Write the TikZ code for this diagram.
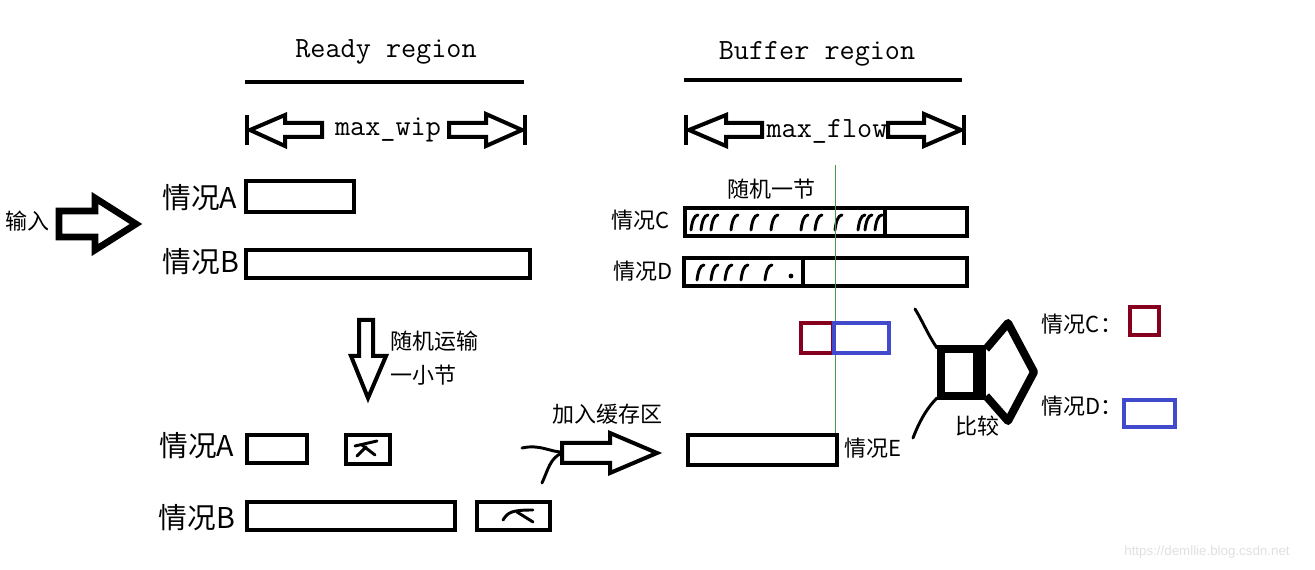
\documentclass[tikz,border=0pt]{standalone}
\usepackage{fontspec}
\setsansfont{Liberation Sans}
\newfontfamily\cjk{Noto Sans CJK SC}
\usetikzlibrary{calc}
\definecolor{boxred}{RGB}{133,0,31}
\definecolor{boxblue}{RGB}{65,73,204}
\definecolor{guidegreen}{RGB}{70,150,80}

\begin{document}
\begin{tikzpicture}[x=0.75pt,y=-0.75pt,
    bar/.style={line width=3pt},
    blk/.style={line width=3pt,line join=miter},
    scrib/.style={line width=2.2pt,line cap=round},
    big/.style={font=\cjk\fontsize{21.5}{25}\selectfont},
    sml/.style={font=\cjk\fontsize{16.5}{20}\selectfont},
    ttl/.style={font=\ttfamily\fontsize{22}{26}\selectfont},
    redbox/.style={draw=boxred,line width=3.2pt},
    bluebox/.style={draw=boxblue,line width=3.2pt}]
            \useasboundingbox (0,0) rectangle (1315,570);

            % titles
            \node[ttl] (ready) at (386,52) {Ready region};
            \node[ttl] (buffer) at (817,54) {Buffer region};
            \draw[bar] (245,82) -- (524,82);
            \draw[bar] (684,80) -- (962,80);

            % max_wip
            \node[ttl] (wip) at (388,130) {max\_wip};
            \draw[bar] (247,115) -- (247,145);
            \draw[blk] (250,130) -- (285,115) -- (285,123) -- (322,123) -- (322,137) -- (285,137) -- (285,146) -- cycle;
            \draw[blk] (522,130) -- (486,114) -- (486,123) -- (449,123) -- (449,137) -- (486,137) -- (486,146) -- cycle;
            \draw[bar] (525,115) -- (525,145);

            % max_flow
            \node[ttl] (flow) at (827,131) {max\_flow};
            \draw[bar] (686,115) -- (686,145);
            \draw[blk] (689,130) -- (726,115) -- (726,123) -- (762,123) -- (762,137) -- (726,137) -- (726,146) -- cycle;
            \draw[blk] (961,130) -- (924,114) -- (924,123) -- (888,123) -- (888,137) -- (924,137) -- (924,146) -- cycle;
            \draw[bar] (964,115) -- (964,145);

            % input
            \node[sml] (input) at (28,221) {输入};
            \draw[line width=5pt,line join=miter] (59,211) -- (95,211) -- (95,198) -- (136,224) -- (95,250) -- (95,237) -- (59,237) -- cycle;

            \node[big] (ra) at (200,198) {情况A};
            \draw[bar] (246,181) rectangle (354,212);
            \node[big] (rb) at (201,262) {情况B};
            \draw[bar] (246,250) rectangle (530,278);

            % buffer cases
            \node[sml] (onesec) at (771,189) {随机一节};
            \node[sml] (bc) at (641,220) {情况C};
            \draw[bar] (685,208) rectangle (967,236);
            \draw[bar] (885,208) -- (885,236);
            \foreach \x in {693,703,713,733,753,773,803,817,837,860,867,877}
                \draw[scrib] ({\x-2},230) .. controls ({\x-1},222) and ({\x+1},215) .. ({\x+5},215);
            \node[sml] (bd) at (643,271) {情况D};
            \draw[bar] (684,258) rectangle (967,286);
            \draw[bar] (803,258) -- (803,286);
            \foreach \x in {699,713,727,743,767}
                \draw[scrib] ({\x-2},280) .. controls ({\x-1},272) and ({\x+1},265) .. ({\x+5},265);
            \fill (791,276) circle (2.4);

            \draw[guidegreen,line width=0.5pt] (835,165) -- (835,465);

            % move down
            \draw[blk] (359,320) -- (373,320) -- (373,356) -- (386,356) -- (368,398) -- (351,356) -- (359,356) -- cycle;
            \node[sml,anchor=west] (move) at (386,341) {随机运输};
            \node[sml,anchor=west] (small) at (386,375) {一小节};

            \draw[redbox] (801,323) rectangle (833,353);
            \draw[bluebox] (834,323) rectangle (889,353);

            % after moving
            \node[big] (la) at (197,446) {情况A};
            \draw[bar] (247,435) rectangle (307,463);
            \draw[bar] (346,435) rectangle (390,464);
            \draw[scrib] (355,446) -- (377,441);
            \draw[scrib] (362,445) -- (375,455);
            \draw[scrib] (357,456) -- (366,447);
            \node[big] (lb) at (197,518) {情况B};
            \draw[bar] (247,502) rectangle (455,530);
            \draw[bar] (477,502) rectangle (550,530);
            \draw[scrib] (503,520) .. controls (508,512) and (512,510) .. (533,510);
            \draw[scrib] (517,512) -- (533,522);

            % join buffer
            \node[sml] (join) at (607,414) {加入缓存区};
            \draw[blk] (562,443) -- (610,443) -- (610,433) -- (657,453) -- (610,473) -- (610,463) -- (562,463) -- cycle;
            \draw[scrib] (522,448) .. controls (540,444) and (550,452) .. (562,452);
            \draw[scrib] (542,483) .. controls (548,470) and (550,458) .. (562,453);
            \draw[bar] (688,435) rectangle (837,465);
            \node[sml] (be) at (873,448) {情况E};

            % compare
            \draw[line width=6pt] (941,349) rectangle (977,396);
            \fill (976,345) rectangle (986,400);
            \draw[line width=6pt,line join=round] (986,349) -- (1008,323) -- (1034,372) -- (1008,421) -- (986,396);
            \draw[scrib] (915,309) .. controls (922,320) and (928,335) .. (937,348);
            \draw[scrib] (937,398) .. controls (925,410) and (918,425) .. (913,438);
            \node[sml] (cmp) at (977,426) {比较};

            \node[sml] (rc) at (1082,324) {情况C：};
            \draw[redbox] (1130,307) rectangle (1159,335);
            \node[sml] (rd) at (1082,406) {情况D：};
            \draw[bluebox] (1124,400) rectangle (1175,427);

            \node[font=\sffamily\fontsize{10}{12}\selectfont,text=black!12] (wm) at (1207,552) {https://demllie.blog.csdn.net};
        \end{tikzpicture}
\end{document}
